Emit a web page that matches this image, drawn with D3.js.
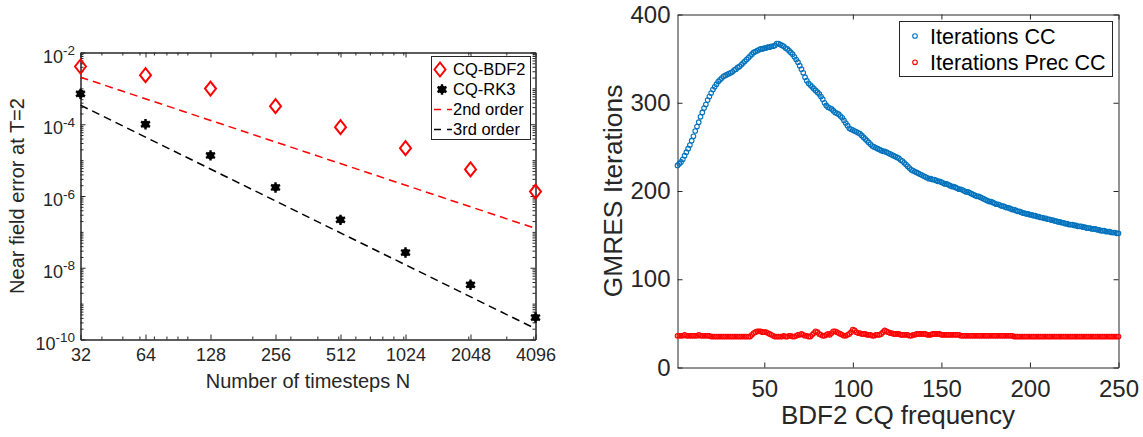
<!DOCTYPE html>
<html><head><meta charset="utf-8">
<script src="https://cdn.jsdelivr.net/npm/d3@7"></script>
<style>
html,body{margin:0;padding:0;background:#fff;}
svg{display:block;font-family:"Liberation Sans",Arial,Helvetica,sans-serif;}
.axis text{fill:#262626;}
.axis line,.axis path{stroke:#262626;}
</style></head>
<body>
<svg id="c" width="1143" height="437"></svg>
<script>
// ---------------- Left chart data ----------------
const timesteps = [32, 64, 128, 256, 512, 1024, 2048, 4096];
const bdf2Err = [4.07e-3, 2.33e-3, 9.9e-4, 3.18e-4, 8.3e-5, 2.15e-5, 5.5e-6, 1.33e-6];
const rk3Err  = [7.06e-4, 1.0e-4, 1.35e-5, 1.73e-6, 2.17e-7, 2.66e-8, 3.35e-9, 4.1e-10];
const refN = [32, 4096];
const order2Ref = [2.05e-3, 1.25e-7];
const order3Ref = [3.4e-4, 2.0e-10];
const yTickExpL = [-10, -8, -6, -4, -2];
const xMinorL = [40,50,60,70,80,90,100,200,300,400,500,600,700,800,900,1000,2000,3000,4000];
const legendL = ["CQ-BDF2", "CQ-RK3", "2nd order", "3rd order"];

// ---------------- Right chart data ----------------
const itersCC = [
229,231,233,236,240,244,248,252,257,262,
268,273,278,284,289,294,298,303,307,311,
315,318,321,324,326,328,330,331,332,333,
334,335,337,338,340,341,343,345,347,349,
351,353,355,357,358,359,360,361,361,362,
362,363,363,364,364,365,367,367,366,365,
364,362,361,359,357,355,352,349,346,342,
338,334,329,325,322,320,318,316,314,312,
310,307,304,300,297,295,294,293,291,289,
288,287,285,283,280,277,274,271,270,269,
268,267,266,265,263,261,259,257,255,253,
251,250,249,248,247,246,245,245,244,243,
242,241,240,239,238,237,235,234,232,230,
228,226,224,223,222,221,220,219,218,217,
216,215,214,214,213,213,212,211,211,210,
209,208,208,207,206,205,205,204,203,202,
202,201,200,199,199,198,197,196,195,194,
194,193,192,191,190,189,188,188,187,186,
185,185,184,183,183,182,181,181,180,179,
179,178,177,177,176,175,175,174,174,173,
173,172,172,171,171,170,170,169,169,168,
168,167,167,166,166,165,165,164,164,163,
163,162,162,162,161,161,160,160,160,159,
159,158,158,158,157,157,157,156,156,155,
155,155,154,154,154,153,153,153,152,152];
const itersPrecCC = [
36,36,36,36,37,36,36,36,36,36,
36,36,37,36,36,36,36,36,36,35,
35,35,35,35,35,35,35,35,35,35,
35,35,35,35,35,35,35,35,35,35,
35,35,37,39,40,41,41,41,40,40,
40,39,38,37,36,35,35,35,35,35,
36,35,35,36,36,35,35,36,37,37,
38,37,36,36,35,35,37,39,41,40,
38,37,36,36,37,38,37,39,41,41,
40,39,38,37,36,36,37,38,40,43,
42,40,39,39,38,38,38,37,37,37,
36,36,37,37,37,38,40,42,41,40,
39,39,38,38,38,38,37,37,37,37,
37,36,36,37,37,38,38,38,38,38,
38,37,37,37,38,38,38,38,38,37,
37,37,37,37,37,37,37,37,37,37,
36,36,36,36,36,36,36,36,36,36,
36,36,36,36,36,36,36,36,36,36,
36,36,36,36,36,36,36,36,36,36,
35,35,35,35,35,35,35,35,35,35,
35,35,35,35,35,35,35,35,35,35,
35,35,35,35,35,35,35,35,35,35,
35,35,35,35,35,35,35,35,35,35,
35,35,35,35,35,35,35,35,35,35,
35,35,35,35,35,35,35,35,35,35];
const freq = d3.range(1, itersCC.length + 1);
const xTicksR = [50, 100, 150, 200, 250];
const yTicksR = [0, 100, 200, 300, 400];
const legendR = ["Iterations CC", "Iterations Prec CC"];

const svg = d3.select("#c");
svg.append("rect").attr("width",1143).attr("height",437).attr("fill","#fff");
const AX = "#262626";

// ================= LEFT CHART =================
const L = {l:80.5, r:535.5, t:52.5, b:339.5};
const xL = d3.scaleLog().base(2).domain([32,4096]).range([L.l, L.r]);
const yL = d3.scaleLog().domain([1e-10,1e-2]).range([L.b, L.t]);
const yMinorL = [];
for (let k=-10;k<-2;k++){ for (let m=1;m<10;m++){ const v=m*Math.pow(10,k); if(!(m===1 && k%2===0)) yMinorL.push(v);} }
const gL = svg.append("g");

const axB = gL.append("g").attr("class","axis").attr("transform",`translate(0,${L.b})`)
  .call(d3.axisBottom(xL).tickValues(timesteps).tickFormat(d3.format("d")).tickSizeInner(-5).tickSizeOuter(0).tickPadding(9));
axB.selectAll("text").attr("font-size",18);
gL.append("g").attr("class","axis").attr("transform",`translate(0,${L.b})`)
  .call(d3.axisBottom(xL).tickValues(xMinorL).tickFormat("").tickSizeInner(-3).tickSizeOuter(0));
gL.append("g").attr("class","axis").attr("transform",`translate(0,${L.t})`)
  .call(d3.axisTop(xL).tickValues(timesteps).tickFormat("").tickSizeInner(-5).tickSizeOuter(0));
gL.append("g").attr("class","axis").attr("transform",`translate(0,${L.t})`)
  .call(d3.axisTop(xL).tickValues(xMinorL).tickFormat("").tickSizeInner(-3).tickSizeOuter(0));

const yMajorVals = yTickExpL.map(e=>Math.pow(10,e));
const axLft = gL.append("g").attr("class","axis").attr("transform",`translate(${L.l},0)`)
  .call(d3.axisLeft(yL).tickValues(yMajorVals).tickFormat("").tickSizeInner(-5).tickSizeOuter(0).tickPadding(5.5));
axLft.selectAll(".tick text").each(function(d){
  const t = d3.select(this);
  t.attr("dy",null).attr("y",9.5).attr("font-size",18).text(null);
  t.append("tspan").text("10");
  t.append("tspan").attr("dy",-7.5).attr("font-size",13.5).text(String(Math.round(Math.log10(d))));
});
gL.append("g").attr("class","axis").attr("transform",`translate(${L.l},0)`)
  .call(d3.axisLeft(yL).tickValues(yMinorL).tickFormat("").tickSizeInner(-3).tickSizeOuter(0));
gL.append("g").attr("class","axis").attr("transform",`translate(${L.r},0)`)
  .call(d3.axisRight(yL).tickValues(yMajorVals).tickFormat("").tickSizeInner(-5).tickSizeOuter(0));
gL.append("g").attr("class","axis").attr("transform",`translate(${L.r},0)`)
  .call(d3.axisRight(yL).tickValues(yMinorL).tickFormat("").tickSizeInner(-3).tickSizeOuter(0));

const refLine = d3.line().x(d=>xL(d[0])).y(d=>yL(d[1]));
gL.append("path").attr("d",refLine(refN.map((n,i)=>[n,order2Ref[i]])))
  .attr("stroke","#ff0000").attr("stroke-width",1.5).attr("fill","none").attr("stroke-dasharray","8,5");
gL.append("path").attr("d",refLine(refN.map((n,i)=>[n,order3Ref[i]])))
  .attr("stroke","#000").attr("stroke-width",1.5).attr("fill","none").attr("stroke-dasharray","8,5");

function diamond(sel){ sel.attr("d","M0,-7L5.5,0L0,7L-5.5,0Z").attr("fill","none").attr("stroke","#ff0000").attr("stroke-width",2); }
function aster(g){
  g.append("circle").attr("r",3.8).attr("fill","#000");
  g.append("path").attr("d",d3.symbol(d3.symbolAsterisk,75)()).attr("stroke","#000").attr("stroke-width",2.4).attr("fill","none");
}
gL.selectAll(".bdf").data(timesteps).enter().append("path").attr("class","bdf")
  .attr("transform",(d,i)=>`translate(${xL(d)},${yL(bdf2Err[i])})`).call(diamond);
gL.selectAll(".rk").data(timesteps).enter().append("g").attr("class","rk")
  .attr("transform",(d,i)=>`translate(${xL(d)},${yL(rk3Err[i])})`).each(function(){aster(d3.select(this));});

gL.append("text").attr("x",(L.l+L.r)/2).attr("y",388).attr("text-anchor","middle")
  .attr("font-size",20).attr("fill",AX).text("Number of timesteps N");
gL.append("text").attr("transform",`translate(24,${(L.t+L.b)/2}) rotate(-90)`).attr("text-anchor","middle")
  .attr("font-size",20).attr("fill",AX).text("Near field error at T=2");

const lgL = gL.append("g");
lgL.append("rect").attr("x",431.5).attr("y",56.5).attr("width",99).attr("height",83)
  .attr("fill","#fff").attr("stroke",AX).attr("stroke-width",1);
const lgY = [69.5, 89.5, 109.5, 129.5];
lgL.append("path").attr("transform",`translate(440,${lgY[0]})`).call(diamond);
aster(lgL.append("g").attr("transform",`translate(442,${lgY[1]})`));
lgL.append("line").attr("x1",434).attr("x2",452).attr("y1",lgY[2]).attr("y2",lgY[2])
  .attr("stroke","#ff0000").attr("stroke-width",1.5).attr("stroke-dasharray","7,6");
lgL.append("line").attr("x1",434).attr("x2",452).attr("y1",lgY[3]).attr("y2",lgY[3])
  .attr("stroke","#000").attr("stroke-width",1.5).attr("stroke-dasharray","7,6");
legendL.forEach((s,i)=>{
  lgL.append("text").attr("x",453).attr("y",lgY[i]).attr("dy","0.35em").attr("font-size",16.5).attr("fill","#000").text(s);
});

// ================= RIGHT CHART =================
const R = {l:677.5, r:1118.5, t:14.5, b:367.5};
const xR = d3.scaleLinear().domain([1,250]).range([R.l, R.r]);
const yR = d3.scaleLinear().domain([0,400]).range([R.b, R.t]);
const gR = svg.append("g");
const axRB = gR.append("g").attr("class","axis").attr("transform",`translate(0,${R.b})`)
  .call(d3.axisBottom(xR).tickValues(xTicksR).tickSizeInner(-5).tickSizeOuter(0).tickPadding(12));
axRB.selectAll("text").attr("font-size",24);
gR.append("g").attr("class","axis").attr("transform",`translate(0,${R.t})`)
  .call(d3.axisTop(xR).tickValues(xTicksR).tickFormat("").tickSizeInner(-5).tickSizeOuter(0));
const axRL = gR.append("g").attr("class","axis").attr("transform",`translate(${R.l},0)`)
  .call(d3.axisLeft(yR).tickValues(yTicksR).tickSizeInner(-5).tickSizeOuter(0).tickPadding(7));
axRL.selectAll("text").attr("font-size",24);
gR.append("g").attr("class","axis").attr("transform",`translate(${R.r},0)`)
  .call(d3.axisRight(yR).tickValues(yTicksR).tickFormat("").tickSizeInner(-5).tickSizeOuter(0));

gR.selectAll(".cc").data(freq).enter().append("circle").attr("class","cc")
  .attr("cx",d=>xR(d)).attr("cy",(d,i)=>yR(itersCC[i])).attr("r",2.3)
  .attr("fill","none").attr("stroke","#0072BD").attr("stroke-width",1.1);
gR.selectAll(".pc").data(freq).enter().append("circle").attr("class","pc")
  .attr("cx",d=>xR(d)).attr("cy",(d,i)=>yR(itersPrecCC[i])).attr("r",2.3)
  .attr("fill","none").attr("stroke","#ff0000").attr("stroke-width",1.1);

gR.append("text").attr("x",(R.l+R.r)/2).attr("y",424).attr("text-anchor","middle")
  .attr("font-size",26).attr("fill",AX).text("BDF2 CQ frequency");
gR.append("text").attr("transform",`translate(622,${(R.t+R.b)/2}) rotate(-90)`).attr("text-anchor","middle")
  .attr("font-size",26.4).attr("fill",AX).text("GMRES Iterations");

const lgR = gR.append("g");
lgR.append("rect").attr("x",899.5).attr("y",21.5).attr("width",213).attr("height",55)
  .attr("fill","#fff").attr("stroke",AX).attr("stroke-width",1);
const lgRY = [36, 62.3];
const lgRC = ["#0072BD", "#ff0000"];
legendR.forEach((s,i)=>{
  lgR.append("circle").attr("cx",915).attr("cy",lgRY[i]).attr("r",2.3).attr("fill","none")
    .attr("stroke",lgRC[i]).attr("stroke-width",1.1);
  lgR.append("text").attr("x",930).attr("y",lgRY[i]).attr("dy","0.35em").attr("font-size",21.5).attr("fill","#000").text(s);
});
</script>
</body></html>
